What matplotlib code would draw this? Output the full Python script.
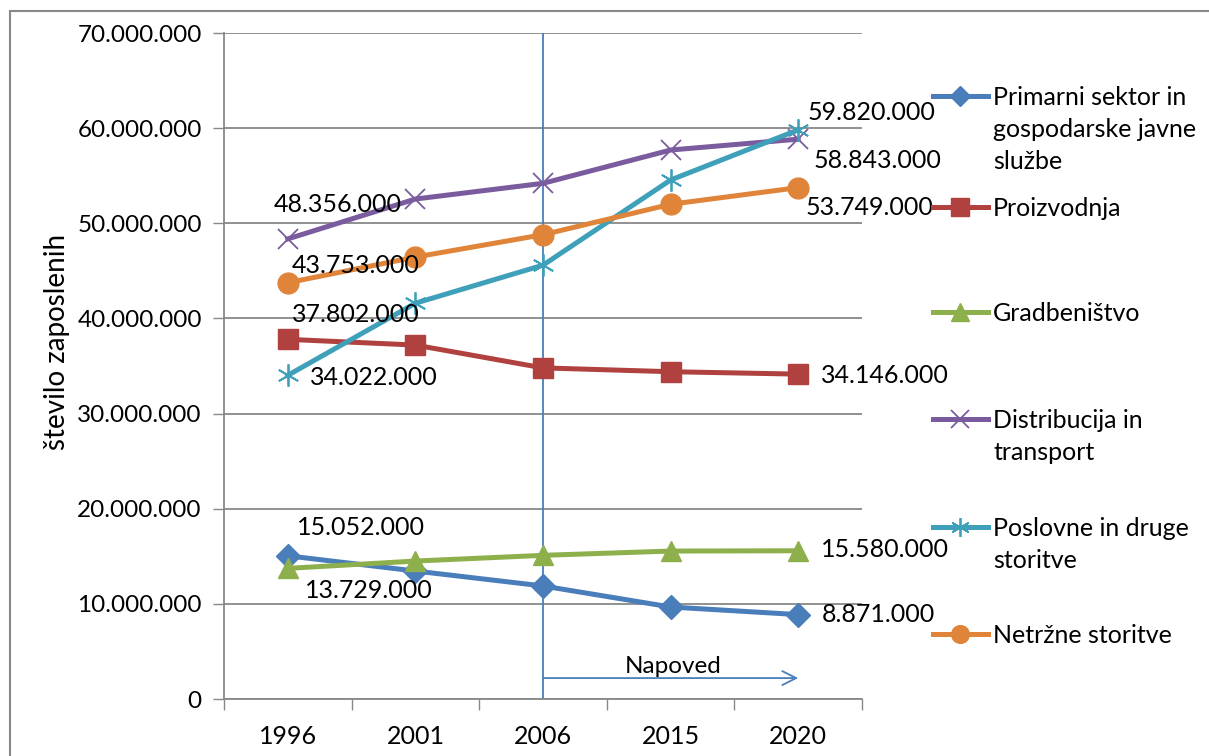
import matplotlib.pyplot as plt
from matplotlib.lines import Line2D
from matplotlib.patches import Rectangle
from matplotlib.ticker import FuncFormatter, FixedLocator

plt.rcParams["font.family"] = ["Lato", "DejaVu Sans"]

years = ["1996", "2001", "2006", "2015", "2020"]

primarni = [15052000, 13450000, 11880000, 9670000, 8871000]
proizvodnja = [37802000, 37200000, 34800000, 34400000, 34146000]
gradbenistvo = [13729000, 14500000, 15100000, 15550000, 15580000]
distribucija = [48356000, 52550000, 54200000, 57700000, 58843000]
poslovne = [34022000, 41600000, 45600000, 54550000, 59820000]
netrzne = [43753000, 46450000, 48800000, 52000000, 53749000]

series_names = [
    "Primarni sektor in\ngospodarske javne\nslužbe",
    "Proizvodnja",
    "Gradbeništvo",
    "Distribucija in\ntransport",
    "Poslovne in druge\nstoritve",
    "Netržne storitve",
]
series_values = [primarni, proizvodnja, gradbenistvo, distribucija, poslovne, netrzne]
colors = ["#4a7ebb", "#b0413e", "#8eb04c", "#7a5c9e", "#3fa0ba", "#e0843a"]
markers = ["D", "s", "^", "x", (6, 2, 0), "o"]
marker_sizes = [12, 15, 15, 15, 16, 15]

# label offsets in pixels for first / last point of each series
first_offsets = [(73, 28), (68, 25), (81, -22), (50, 34), (86, -2), (68, 17)]
last_offsets = [(80, 0), (87, -1), (87, 1), (79, -21), (73, 17), (71, -20)]

fig = plt.figure(figsize=(12.09, 7.56), dpi=100)
ax = fig.add_axes([224 / 1209, 1 - 699 / 756, (862 - 224) / 1209, (699 - 33) / 756])

x = [i + 0.5 for i in range(len(years))]

for vals, col, mk, ms, o1, o2 in zip(
        series_values, colors, markers, marker_sizes, first_offsets, last_offsets
):
    mew = 1.3 if mk in ("x", (6, 2, 0)) else 1
    ax.plot(x, vals, color=col, lw=3.6, marker=mk, markersize=ms,
            markeredgewidth=mew, markerfacecolor=col, markeredgecolor=col,
            zorder=3, clip_on=False)
    for idx, off in ((0, o1), (-1, o2)):
        ax.annotate(f"{vals[idx]:,}".replace(",", "."),
                    xy=(x[idx], vals[idx]), xytext=off,
                    textcoords="offset pixels", ha="center", va="center",
                    fontsize=18, color="black", zorder=4)

ax.set_xlim(0, len(years))
ax.set_ylim(0, 70000000)
ax.set_yticks(range(0, 70000001, 10000000))
ax.yaxis.set_major_formatter(FuncFormatter(lambda v, p: f"{int(v):,}".replace(",", ".")))
ax.xaxis.set_major_locator(FixedLocator(range(len(years) + 1)))
ax.xaxis.set_minor_locator(FixedLocator(x))
ax.set_xticklabels([""] * (len(years) + 1))
ax.set_xticklabels(years, minor=True)
ax.tick_params(axis="x", which="major", direction="out", length=8, color="#888888", width=1)
ax.tick_params(axis="x", which="minor", length=0, pad=19, labelsize=18)
ax.tick_params(axis="y", direction="out", length=8, color="#888888", width=1,
               labelsize=17.5, pad=8)

ax.grid(axis="y", color="#888888", lw=1.3)
ax.set_axisbelow(True)
for side in ("top", "right"):
    ax.spines[side].set_visible(False)
for side in ("left", "bottom"):
    ax.spines[side].set_color("#888888")
    ax.spines[side].set_linewidth(1.3)

ax.set_ylabel("število zaposlenih", fontsize=20, labelpad=5, y=0.536)

# forecast marker
ax.axvline(x[2], color="#4a7ebb", lw=1.3, zorder=2)
ax.annotate("", xy=(x[4], 2200000), xytext=(x[2], 2200000),
            arrowprops=dict(arrowstyle="->", color="#4a7ebb", lw=1.3,
                            mutation_scale=25, shrinkA=0, shrinkB=0))
ax.text((x[2] + x[4]) / 2 + 0.02, 3400000, "Napoved", fontsize=17.5,
        ha="center", va="center")

# legend, drawn by hand to keep Excel's uneven spacing
legend_y = [96, 207, 312, 419, 527, 634]
for name, col, mk, ms, ly in zip(series_names, colors, markers, marker_sizes, legend_y):
    yf = 1 - ly / 756
    fig.add_artist(Line2D([933 / 1209, 988 / 1209], [yf, yf], color=col, lw=3.6))
    mew = 1.3 if mk in ("x", (6, 2, 0)) else 1
    fig.add_artist(Line2D([960 / 1209], [yf], color=col, marker=mk,
                          markersize=ms * 0.85, markeredgewidth=mew,
                          markerfacecolor=col, markeredgecolor=col))
    fig.text(993 / 1209, yf + 10 / 756, name, fontsize=18, ha="left", va="top",
             linespacing=1.48)

# outer chart border
fig.add_artist(Rectangle((10 / 1209, -0.05), 1.1, 1.05 - 11 / 756,
                         transform=fig.transFigure, fill=False,
                         edgecolor="#888888", lw=1.5))

fig.savefig("out.png", dpi=100)
